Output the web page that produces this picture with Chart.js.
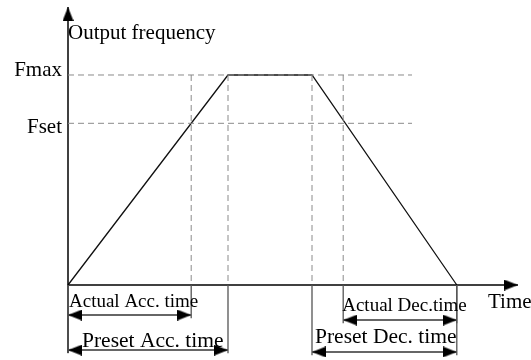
<!DOCTYPE html>
<html>
<head>
<meta charset="utf-8">
<script src="https://cdn.jsdelivr.net/npm/chart.js@4/dist/chart.umd.min.js"></script>
<style>
  body { margin: 0; background: #fff; }
  canvas { display: block; }
</style>
</head>
<body>
<canvas id="rampa" width="531" height="360"></canvas>
<script>
// curva de frequencia (tempo em s, frequencia em % de Fmax)
const rampTimes = [0, 10, 15.25, 24.3];
const rampFreq = [0, 100, 100, 0];

// niveis de frequencia
const levelNames = ['Fmax', 'Fset'];
const levelFreq = [100, 77];

// linhas guia verticais (tempos)
const guideTimes = [7.7, 10, 15.25, 17.2];

// intervalos de tempo
const spanNames = ['Actual Acc. time', 'Preset Acc. time', 'Actual Dec.time', 'Preset Dec. time'];
const spanStart = [0, 0, 17.2, 15.25];
const spanEnd = [7.7, 10, 24.3, 24.3];

const axisTitles = ['Output frequency', 'Time'];

// layout (nao sao dados)
const spanRowY = [-14.3, -31, -16.7, -31.9];
const spanLabelOffset = [[1, -8], [14, -3], [-1, -9], [3, -9]];
const spanFont = ['19px "Liberation Serif"', '21.5px "Liberation Serif"', '19px "Liberation Serif"', '21.5px "Liberation Serif"'];
const levelLabelDy = [1, 10];
const dashEnd = 21.5;
const axisTop = 132.4;
const axisBottom = -32.4;
const axisRight = 28.125;

function criaPonta() {
    const c = document.createElement('canvas');
    c.width = 11;
    c.height = 28;
    const g = c.getContext('2d');
    g.fillStyle = '#000';
    g.beginPath();
    g.moveTo(5.5, 14);
    g.lineTo(11, 28);
    g.lineTo(0, 28);
    g.closePath();
    g.fill();
    return c;
}
const ponta = criaPonta();

function linha(pts, cor, largura, tracejado) {
    return {
        data: pts,
        showLine: true,
        borderColor: cor,
        borderWidth: largura,
        borderDash: tracejado || [],
        pointRadius: 0,
        fill: false
    };
}

var datasets = [];

// linhas tracejadas horizontais
for (let i = 0; i < levelFreq.length; i++) {
    datasets.push(linha([{x: 0, y: levelFreq[i]}, {x: dashEnd, y: levelFreq[i]}], '#8a8a8a', 1, [6, 4]));
}
// linhas tracejadas verticais
for (let i = 0; i < guideTimes.length; i++) {
    datasets.push(linha([{x: guideTimes[i], y: levelFreq[0]}, {x: guideTimes[i], y: 0}], '#8a8a8a', 1, [6, 4]));
}
// extensoes abaixo do eixo e setas duplas
for (let i = 0; i < spanNames.length; i++) {
    datasets.push(linha([{x: spanStart[i], y: 0}, {x: spanStart[i], y: spanRowY[i] - 1.5}], '#555', 1.3));
    datasets.push(linha([{x: spanEnd[i], y: 0}, {x: spanEnd[i], y: spanRowY[i] - 1.5}], '#555', 1.3));
    var seta = linha([{x: spanStart[i], y: spanRowY[i]}, {x: spanEnd[i], y: spanRowY[i]}], '#333', 1.5);
    seta.pointRadius = 5;
    seta.pointStyle = ponta;
    seta.pointRotation = (ctx) => ctx.dataIndex === 0 ? -90 : 90;
    datasets.push(seta);
}
// eixos
var eixoY = linha([{x: 0, y: axisBottom}, {x: 0, y: axisTop}], '#000', 1.5);
eixoY.pointRadius = [0, 5];
eixoY.pointStyle = ponta;
datasets.push(eixoY);
var eixoX = linha([{x: 0, y: 0}, {x: axisRight, y: 0}], '#000', 1.5);
eixoX.pointRadius = [0, 5];
eixoX.pointStyle = ponta;
eixoX.pointRotation = 90;
datasets.push(eixoX);
// curva
datasets.push(linha(rampTimes.map((t, i) => ({x: t, y: rampFreq[i]})), '#111', 1.3));

const textos = {
    id: 'textos',
    afterDatasetsDraw(chart) {
        const ctx = chart.ctx;
        const x = chart.scales.x;
        const y = chart.scales.y;
        ctx.save();
        ctx.fillStyle = '#000';
        ctx.textBaseline = 'alphabetic';

        ctx.font = '21px "Liberation Serif"';
        ctx.textAlign = 'left';
        ctx.fillText(axisTitles[0], x.getPixelForValue(0), y.getPixelForValue(axisTop) + 32);
        ctx.fillText(axisTitles[1], x.getPixelForValue(axisRight) - 30, y.getPixelForValue(0) + 23);

        ctx.textAlign = 'right';
        for (let i = 0; i < levelNames.length; i++) {
            ctx.fillText(levelNames[i], x.getPixelForValue(0) - 6, y.getPixelForValue(levelFreq[i]) + levelLabelDy[i]);
        }

        ctx.textAlign = 'left';
        for (let i = 0; i < spanNames.length; i++) {
            ctx.font = spanFont[i];
            ctx.fillText(spanNames[i],
                x.getPixelForValue(spanStart[i]) + spanLabelOffset[i][0],
                y.getPixelForValue(spanRowY[i]) + spanLabelOffset[i][1]);
        }
        ctx.restore();
    }
};

new Chart(document.getElementById('rampa'), {
    type: 'scatter',
    data: { datasets: datasets },
    options: {
        responsive: false,
        animation: false,
        events: [],
        layout: { padding: 0, autoPadding: false },
        plugins: {
            legend: { display: false },
            tooltip: { enabled: false }
        },
        scales: {
            x: { type: 'linear', display: false, min: -4.25, max: 28.9375 },
            y: { type: 'linear', display: false, min: -35.71, max: 135.71 }
        }
    },
    plugins: [textos]
});
</script>
</body>
</html>
